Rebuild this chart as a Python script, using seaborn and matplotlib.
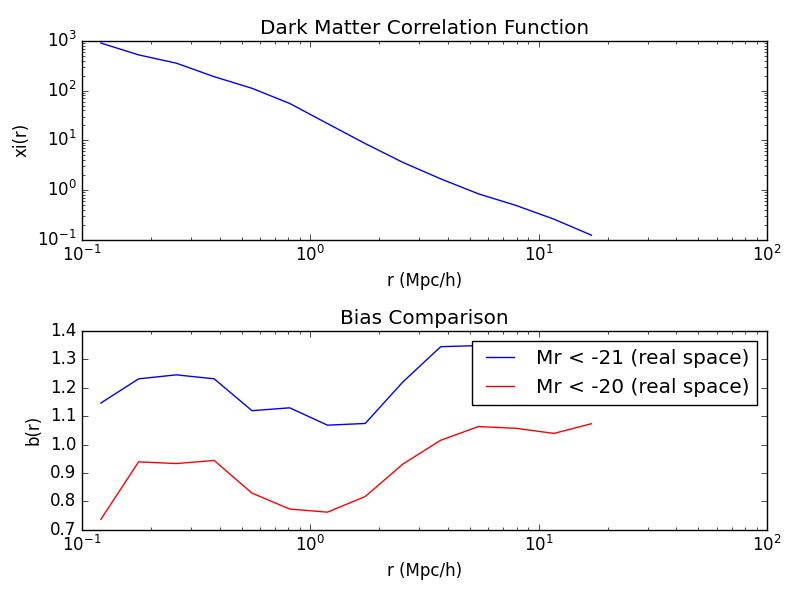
import matplotlib
matplotlib.use("Agg")
import matplotlib.pyplot as plt
import seaborn as sns

# separation bins (Mpc/h)
r_bins = [0.121, 0.177, 0.259, 0.379, 0.555, 0.812, 1.188, 1.738, 2.54, 3.72, 5.44, 7.96, 11.65, 17.0]

# dark matter correlation function
xi_dm = [900, 521, 355, 190, 111, 55, 21.7, 8.6, 3.6, 1.68, 0.84, 0.49, 0.26, 0.124]

# bias for two luminosity thresholds
bias_21 = [1.146, 1.231, 1.245, 1.231, 1.119, 1.129, 1.068, 1.074, 1.22, 1.344, 1.348, 1.33, 1.30, 1.32]
bias_20 = [0.737, 0.939, 0.933, 0.944, 0.829, 0.773, 0.762, 0.817, 0.931, 1.015, 1.063, 1.057, 1.039, 1.073]

plt.style.use("classic")

fig, (ax1, ax2) = plt.subplots(2, 1, figsize=(8, 6), dpi=100)
fig.patch.set_facecolor("white")
fig.subplots_adjust(left=0.1025, right=0.959, top=0.932, bottom=0.117, hspace=0.457)

ax1.set_xscale("log")
ax1.set_yscale("log")
sns.lineplot(x=r_bins, y=xi_dm, color="b", ax=ax1)
ax1.set_xlim(0.1, 100)
ax1.set_ylim(0.1, 1000)
ax1.set_title("Dark Matter Correlation Function")
ax1.set_xlabel("r (Mpc/h)")
ax1.set_ylabel("xi(r)")

ax2.set_xscale("log")
sns.lineplot(x=r_bins, y=bias_21, color="b", label="Mr < -21 (real space)", ax=ax2)
sns.lineplot(x=r_bins, y=bias_20, color="r", label="Mr < -20 (real space)", ax=ax2)
ax2.set_xlim(0.1, 100)
ax2.set_ylim(0.7, 1.4)
ax2.set_title("Bias Comparison")
ax2.set_xlabel("r (Mpc/h)")
ax2.set_ylabel("b(r)")
ax2.legend(loc="upper right")

fig.savefig("out.png", dpi=100, facecolor="white")
